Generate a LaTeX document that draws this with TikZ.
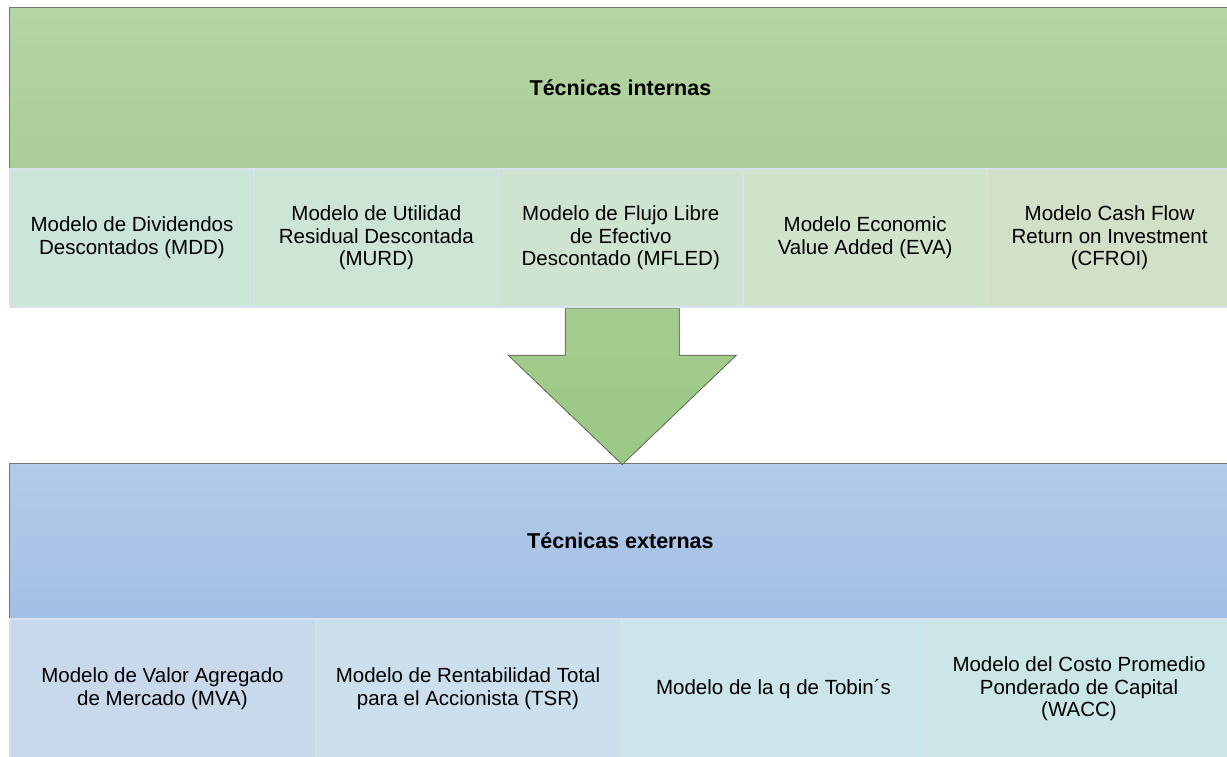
\documentclass[tikz,border=0pt]{standalone}
\usepackage{fontspec}
\setmainfont{Liberation Sans}
\usetikzlibrary{calc}
\definecolor{gTop}{HTML}{B5D5A5}
\definecolor{gBot}{HTML}{A9CE96}
\definecolor{bTop}{HTML}{B1CBE9}
\definecolor{bBot}{HTML}{A3BFE5}
\definecolor{hdrline}{HTML}{6F7A6C}
\definecolor{sepcol}{HTML}{D8E2EC}
\definecolor{iA}{HTML}{CBE5D9}
\definecolor{iB}{HTML}{CDE5D4}
\definecolor{iC}{HTML}{CEE4D0}
\definecolor{iD}{HTML}{D0E3CB}
\definecolor{iE}{HTML}{D3E0C8}
\definecolor{eA}{HTML}{C9D9EC}
\definecolor{eB}{HTML}{CBE0EC}
\definecolor{eC}{HTML}{CBE5EA}
\definecolor{eD}{HTML}{CAE6E6}
\definecolor{arTop}{HTML}{A5CC90}
\definecolor{arBot}{HTML}{9BC783}
\definecolor{arLine}{HTML}{5E6E55}
\tikzset{
  header/.style={draw=hdrline, line width=0.9pt, rectangle, inner sep=0pt,
    anchor=north west, minimum width=1222pt,
    font=\fontsize{21.5}{24}\selectfont\bfseries},
  itembox/.style={draw=sepcol, line width=1.5pt, rectangle, inner sep=0pt,
    anchor=north west, align=center,
    font=\fontsize{20.5}{22.5}\selectfont},
  inbox/.style={itembox, minimum width=244.4pt, minimum height=138pt},
  exbox/.style={itembox, minimum width=305.5pt, minimum height=140pt},
  bigarrow/.style={draw=arLine, line width=0.8pt, top color=arTop, bottom color=arBot}
}
\begin{document}
\begin{tikzpicture}[x=1pt,y=-1pt]
\useasboundingbox (0,0) rectangle (1227,756);
\clip (0,0) rectangle (1227,756);
\fill[white] (0,0) rectangle (1227,756);

% top header
\node[header, minimum height=161pt, top color=gTop, bottom color=gBot] (hi) at (9,7) {Técnicas internas};
% internal techniques
\node[inbox, fill=iA] (i1) at (9,168) {Modelo de Dividendos\\Descontados (MDD)};
\node[inbox, fill=iB] (i2) at (253.4,168) {Modelo de Utilidad\\Residual Descontada\\(MURD)};
\node[inbox, fill=iC] (i3) at (497.8,168) {Modelo de Flujo Libre\\de Efectivo\\Descontado (MFLED)};
\node[inbox, fill=iD] (i4) at (742.2,168) {Modelo Economic\\Value Added (EVA)};
\node[inbox, fill=iE] (i5) at (986.6,168) {Modelo Cash Flow\\Return on Investment\\(CFROI)};

% bottom header
\node[header, minimum height=155pt, top color=bTop, bottom color=bBot] (he) at (9,463) {Técnicas externas};
% external techniques
\node[exbox, fill=eA] (e1) at (9,618) {Modelo de Valor Agregado\\de Mercado (MVA)};
\node[exbox, fill=eB] (e2) at (314.5,618) {Modelo de Rentabilidad Total\\para el Accionista (TSR)};
\node[exbox, fill=eC] (e3) at (620,618) {Modelo de la q de Tobin´s};
\node[exbox, fill=eD] (e4) at (925.5,618) {Modelo del Costo Promedio\\Ponderado de Capital\\(WACC)};

% big arrow
\coordinate (as) at ($(i3.south)+(1.5,0.8)$);
\coordinate (tip) at ($(as |- he.north)+(0,1.5)$);
\filldraw[bigarrow] ($(as)+(-57,0)$) -- ($(as)+(-57,47)$) -- ($(as)+(-114,47)$) -- (tip)
  -- ($(as)+(114,47)$) -- ($(as)+(57,47)$) -- ($(as)+(57,0)$);
\end{tikzpicture}
\end{document}
